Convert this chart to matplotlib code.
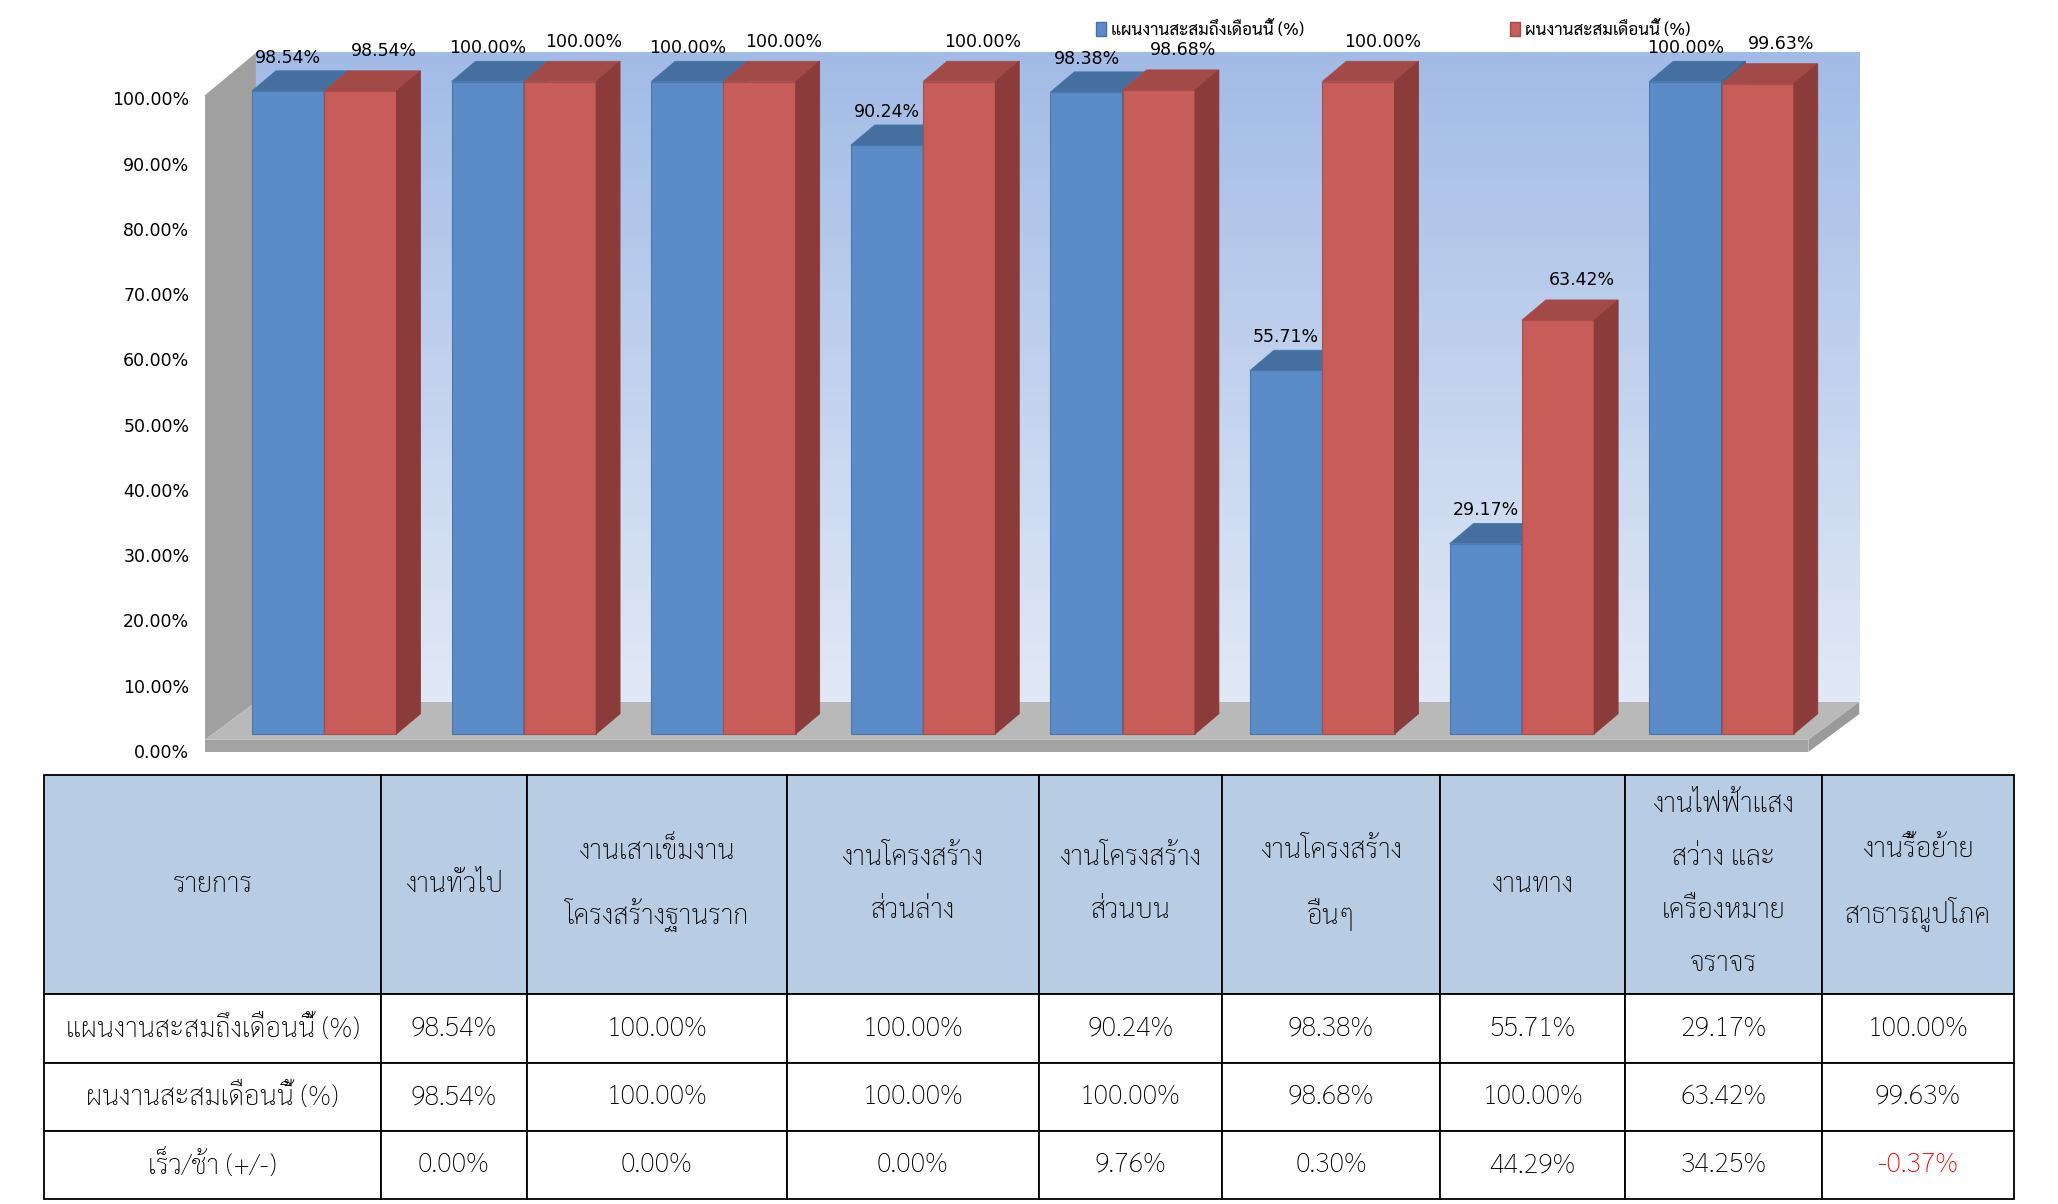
import numpy as np
import matplotlib
matplotlib.use("Agg")
import matplotlib.pyplot as plt
from matplotlib import font_manager
from matplotlib.ft2font import FT2Font
from matplotlib.patches import Polygon, Patch
from matplotlib.colors import LinearSegmentedColormap

# data
categories = ["งานทั่วไป", "งานเสาเข็มงาน\nโครงสร้างฐานราก", "งานโครงสร้าง\nส่วนล่าง",
              "งานโครงสร้าง\nส่วนบน", "งานโครงสร้าง\nอื่นๆ", "งานทาง",
              "งานไฟฟ้าแสง\nสว่าง และ\nเครื่องหมาย\nจราจร", "งานรื้อย้าย\nสาธารณูปโภค"]
plan = [98.54, 100.00, 100.00, 90.24, 98.38, 55.71, 29.17, 100.00]
actual = [98.54, 100.00, 100.00, 100.00, 98.68, 100.00, 63.42, 99.63]
series_names = ["แผนงานสะสมถึงเดือนนี้ (%)", "ผนงานสะสมเดือนนี้ (%)"]
diff_name = "เร็ว/ช้า (+/-)"
first_col = "รายการ"
yticks = list(range(0, 101, 10))


def pick_thai_font(prefs):
    have = set()
    for f in font_manager.fontManager.ttflist:
        try:
            if 0x0E07 in FT2Font(f.fname).get_charmap():
                have.add(f.name)
        except Exception:
            pass
    for p in prefs:
        if p in have:
            return p
    return sorted(have)[0] if have else None


thai_font = pick_thai_font(["Sarabun", "Niramit", "Loma", "Noto Sans Thai"])
plt.rcParams["font.family"] = ([thai_font] if thai_font else []) + ["DejaVu Sans"]
num_font = "DejaVu Sans"

blue = dict(front="#5b8cc7", top="#456f9f", side="#3f6590", edge="#4a77ad")
red = dict(front="#c75c59", top="#a24a48", side="#8b3b3a", edge="#a84f4d")

fig = plt.figure(figsize=(20.58, 12.04), dpi=100)
ax = fig.add_axes([0.0974, 0.3709, 0.8167, 0.6015])
ax.set_xlim(-0.62, 7.8)
ax.set_ylim(-1, 110)

# 3d box geometry
b0 = 2.6          # bar base above floor front
dx, dy = 0.12, 3.1
wx0, wx1 = -0.597, 7.435
wdx, wdy = 0.255, 5.8
floor_y0, floor_y1 = -0.15, 1.7
wall_top = 107

grad = np.linspace(0, 1, 256).reshape(-1, 1)
cmap = LinearSegmentedColormap.from_list("wall", ["#a2bbe6", "#e2e9f6"])
ax.imshow(grad, extent=[wx0 + wdx, wx1 + wdx, floor_y1 + wdy, wall_top], aspect="auto",
          cmap=cmap, origin="upper", zorder=0)
ax.add_patch(Polygon([(wx0, floor_y1), (wx0, 100.5), (wx0 + wdx, wall_top), (wx0 + wdx, floor_y1 + wdy)],
                     closed=True, fc="#a0a0a0", ec="none", zorder=1))
ax.add_patch(Polygon([(wx0, floor_y1), (wx1, floor_y1), (wx1 + wdx, floor_y1 + wdy), (wx0 + wdx, floor_y1 + wdy)],
                     closed=True, fc="#b9b9b9", ec="none", zorder=1))
ax.add_patch(Polygon([(wx0, floor_y0), (wx1, floor_y0), (wx1, floor_y1), (wx0, floor_y1)],
                     closed=True, fc="#a3a3a3", ec="none", zorder=1))
ax.add_patch(Polygon([(wx1, floor_y0), (wx1 + wdx, floor_y0 + wdy), (wx1 + wdx, floor_y1 + wdy), (wx1, floor_y1)],
                     closed=True, fc="#9a9a9a", ec="none", zorder=1))

w = 0.362
x = np.arange(len(plan))


def bar3d(xl, h, c, z):
    ax.bar(xl, h, width=w, bottom=b0, align="edge", color=c["front"], edgecolor=c["edge"],
           linewidth=0.8, zorder=z)
    for xi, hi in zip(xl, h):
        top = b0 + hi
        ax.add_patch(Polygon([(xi, top), (xi + w, top), (xi + w + dx, top + dy), (xi + dx, top + dy)],
                             closed=True, fc=c["top"], ec=c["edge"], lw=0.6, zorder=z))
        ax.add_patch(Polygon([(xi + w, b0), (xi + w + dx, b0 + dy), (xi + w + dx, top + dy), (xi + w, top)],
                             closed=True, fc=c["side"], ec=c["side"], lw=0.6, zorder=z))


for i in range(len(plan)):
    bar3d([x[i] - w], [plan[i]], blue, 3 + 2 * i)
    bar3d([x[i]], [actual[i]], red, 4 + 2 * i)

for xi, p, a in zip(x, plan, actual):
    ax.text(xi - w / 2, b0 + p + dy + 2.0, f"{p:.2f}%", ha="center", va="center",
            fontsize=12.5, family=num_font, zorder=30)
    ax.text(xi + w / 2 + dx, b0 + a + dy + 3.0, f"{a:.2f}%", ha="center", va="center",
            fontsize=12.5, family=num_font, zorder=30)

ax.set_yticks(yticks)
ax.set_yticklabels([f"{v:.2f}%" for v in yticks], family=num_font, fontsize=12.5)
ax.tick_params(axis="y", length=0, pad=8)
ax.set_xticks([])
for s in ax.spines.values():
    s.set_visible(False)

h1 = Patch(fc=blue["front"], ec=blue["top"], lw=1)
h2 = Patch(fc=red["front"], ec=red["top"], lw=1)
leg_kw = dict(loc="center left", frameon=False, fontsize=12.3, handlelength=0.6, handleheight=0.9,
              handletextpad=0.3, borderpad=0, borderaxespad=0)
fig.legend(handles=[h1], labels=[series_names[0]], bbox_to_anchor=(1096 / 2058, 1 - 30 / 1204), **leg_kw)
fig.legend(handles=[h2], labels=[series_names[1]], bbox_to_anchor=(1510 / 2058, 1 - 30 / 1204), **leg_kw)

# table
axt = fig.add_axes([44 / 2058, 5 / 1204, 1970 / 2058, 424 / 1204])
axt.axis("off")
diff = [a - p for a, p in zip(actual, plan)]
cells = [[first_col] + categories,
         [series_names[0]] + [f"{v:.2f}%" for v in plan],
         [series_names[1]] + [f"{v:.2f}%" for v in actual],
         [diff_name] + [f"{v:.2f}%" for v in diff]]
col_w = [337, 145.5, 260, 252, 183.4, 218, 185, 197, 192]
row_h = [219, 69, 68, 68]
tb = axt.table(cellText=cells, colWidths=[c / sum(col_w) for c in col_w], bbox=[0, 0, 1, 1],
               cellLoc="center")
tb.auto_set_font_size(False)
for (r, c), cell in tb.get_celld().items():
    cell.set_height(row_h[r] / sum(row_h))
    cell.set_linewidth(1.3)
    cell.set_edgecolor("black")
    cell.set_facecolor("#b8cce4" if r == 0 else "white")
    t = cell.get_text()
    t.set_fontsize(19.5)
    t.set_fontweight("light")
    t.set_linespacing(2.3)
    if r == 3 and c > 0 and diff[c - 1] < 0:
        t.set_color("red")

fig.savefig("out.png", dpi=100)
